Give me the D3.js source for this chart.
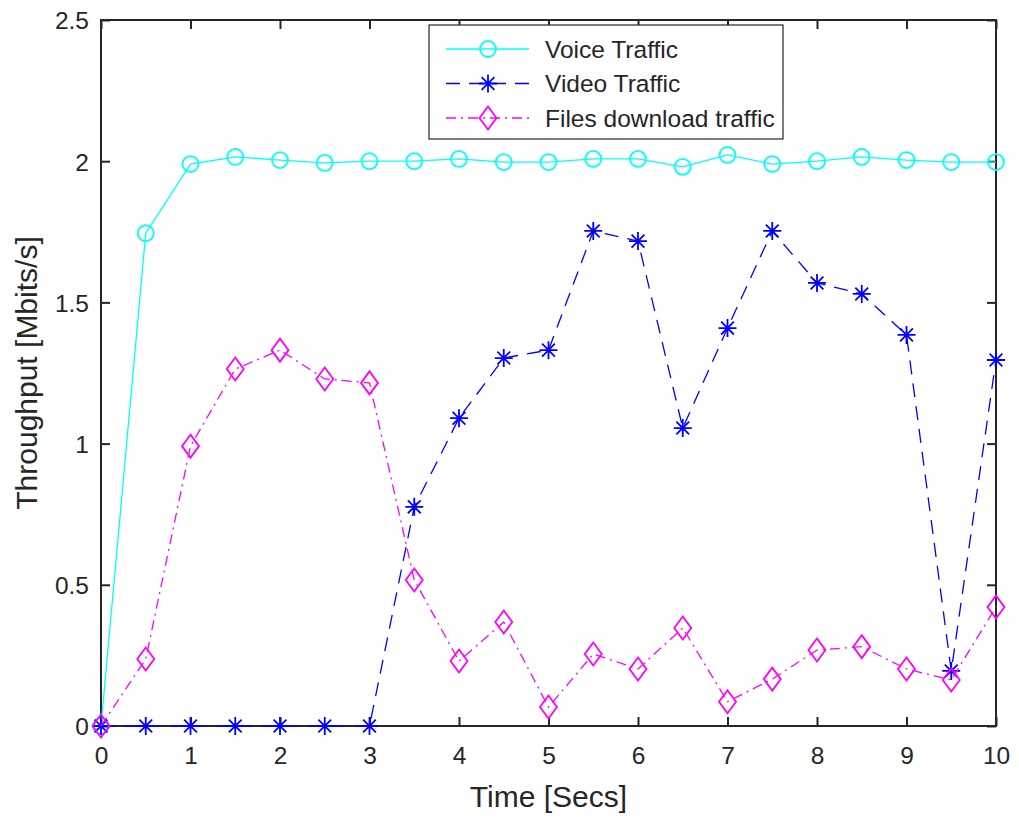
<!DOCTYPE html>
<html>
<head>
<meta charset="utf-8">
<script src="https://cdn.jsdelivr.net/npm/d3@7"></script>
<style>
  body { margin: 0; background: #fff; }
  text { font-family: "Liberation Sans", Arial, Helvetica, sans-serif; fill: #262626; }
</style>
</head>
<body>
<div id="chart"></div>
<script>
// time in seconds
const times = [0, 0.5, 1, 1.5, 2, 2.5, 3, 3.5, 4, 4.5, 5, 5.5, 6, 6.5, 7, 7.5, 8, 8.5, 9, 9.5, 10];
const voice = [0, 1.745, 1.99, 2.015, 2.004, 1.994, 2.0, 2.0, 2.008, 1.997, 1.997, 2.008, 2.008, 1.98, 2.022, 1.99, 2.0, 2.015, 2.004, 1.997, 1.997];
const video = [0, 0, 0, 0, 0, 0, 0, 0.776, 1.09, 1.303, 1.331, 1.753, 1.717, 1.055, 1.409, 1.753, 1.569, 1.53, 1.385, 0.195, 1.296];
const files = [0, 0.237, 0.991, 1.264, 1.331, 1.229, 1.215, 0.517, 0.23, 0.368, 0.067, 0.255, 0.202, 0.347, 0.086, 0.166, 0.269, 0.281, 0.202, 0.163, 0.421];
const xTicks = [0, 1, 2, 3, 4, 5, 6, 7, 8, 9, 10];
const yTicks = [0, 0.5, 1, 1.5, 2, 2.5];

const series = [
  { name: 'Voice Traffic', values: voice, color: '#00ffff', dash: null, marker: 'circle' },
  { name: 'Video Traffic', values: video, color: '#0000ff', dash: '14,9', marker: 'asterisk' },
  { name: 'Files download traffic', values: files, color: '#ff00ff', dash: '10,5,2,5', marker: 'diamond' },
];

const width = 1019, height = 819;
const margin = { top: 20, right: 23, bottom: 93, left: 101 };
const w = width - margin.left - margin.right;
const h = height - margin.top - margin.bottom;
const axisColor = '#262626';
const fontFamily = '"Liberation Sans", Arial, Helvetica, sans-serif';

const svg = d3.select('#chart').append('svg')
  .attr('width', width)
  .attr('height', height);

const g = svg.append('g')
  .attr('transform', `translate(${margin.left},${margin.top})`);

const x = d3.scaleLinear().domain([0, 10]).range([0, w]);
const y = d3.scaleLinear().domain([0, 2.5]).range([h, 0]);

// ticks, inward on all four sides
const tickLen = 9;
const xAxisB = g.append('g').attr('transform', `translate(0,${h})`)
  .call(d3.axisBottom(x).tickValues(xTicks).tickSize(-tickLen).tickPadding(21).tickFormat(d3.format('d')));
const xAxisT = g.append('g')
  .call(d3.axisTop(x).tickValues(xTicks).tickSize(-tickLen).tickFormat(''));
const yAxisL = g.append('g')
  .call(d3.axisLeft(y).tickValues(yTicks).tickSize(-tickLen).tickPadding(12).tickFormat(d => String(d)));
const yAxisR = g.append('g').attr('transform', `translate(${w},0)`)
  .call(d3.axisRight(y).tickValues(yTicks).tickSize(-tickLen).tickFormat(''));

[xAxisB, xAxisT, yAxisL, yAxisR].forEach(a => {
  a.select('.domain').remove();
  a.selectAll('.tick line').attr('stroke', axisColor).attr('stroke-width', 2);
  a.selectAll('.tick text').attr('font-size', 24.5).attr('fill', axisColor)
    .style('font-family', fontFamily);
});
yAxisL.selectAll('.tick text').attr('dy', '0.36em');

// box
g.append('rect')
  .attr('width', w).attr('height', h)
  .attr('fill', 'none')
  .attr('stroke', axisColor)
  .attr('stroke-width', 2);

// axis labels
svg.append('text')
  .attr('x', margin.left + w / 2).attr('y', 807)
  .attr('text-anchor', 'middle').attr('font-size', 30)
  .text('Time [Secs]');
svg.append('text')
  .attr('transform', `translate(37,${margin.top + h / 2}) rotate(-90)`)
  .attr('text-anchor', 'middle').attr('font-size', 30)
  .text('Throughput [Mbits/s]');

function markerPath(type) {
  if (type === 'circle') return d3.symbol(d3.symbolCircle, 200)();
  if (type === 'diamond') return 'M0,-11.5L8.5,0L0,11.5L-8.5,0Z';
  // matlab style asterisk: plus + cross
  const r = 9, d = 6.4;
  return `M${-r},0L${r},0M0,${-r}L0,${r}M${-d},${-d}L${d},${d}M${-d},${d}L${d},${-d}`;
}

const line = d3.line().x(d => x(d[0])).y(d => y(d[1]));
const plot = g.append('g');

series.forEach(s => {
  const pts = times.map((t, i) => [t, s.values[i]]);
  plot.append('path')
    .datum(pts)
    .attr('d', line)
    .attr('fill', 'none')
    .attr('stroke', s.color)
    .attr('stroke-width', 1.3)
    .attr('stroke-dasharray', s.dash);
  plot.selectAll(null)
    .data(pts)
    .join('path')
    .attr('transform', d => `translate(${x(d[0])},${y(d[1])})`)
    .attr('d', markerPath(s.marker))
    .attr('fill', 'none')
    .attr('stroke', s.color)
    .attr('stroke-width', s.marker === 'asterisk' ? 1.8 : 1.8);
});

// legend
const legend = svg.append('g').attr('transform', 'translate(429,25)');
legend.append('rect')
  .attr('width', 354).attr('height', 114)
  .attr('fill', '#fff')
  .attr('stroke', axisColor)
  .attr('stroke-width', 1.2);
series.forEach((s, i) => {
  const row = legend.append('g').attr('transform', `translate(0,${24 + i * 34.5})`);
  row.append('line')
    .attr('x1', 17).attr('x2', 100)
    .attr('stroke', s.color).attr('stroke-width', 1.3)
    .attr('stroke-dasharray', s.dash);
  row.append('path')
    .attr('transform', 'translate(59,0)')
    .attr('d', markerPath(s.marker))
    .attr('fill', 'none')
    .attr('stroke', s.color)
    .attr('stroke-width', 1.8);
  row.append('text')
    .attr('x', 116).attr('dy', '0.36em')
    .attr('font-size', 24.5)
    .text(s.name);
});
</script>
</body>
</html>
